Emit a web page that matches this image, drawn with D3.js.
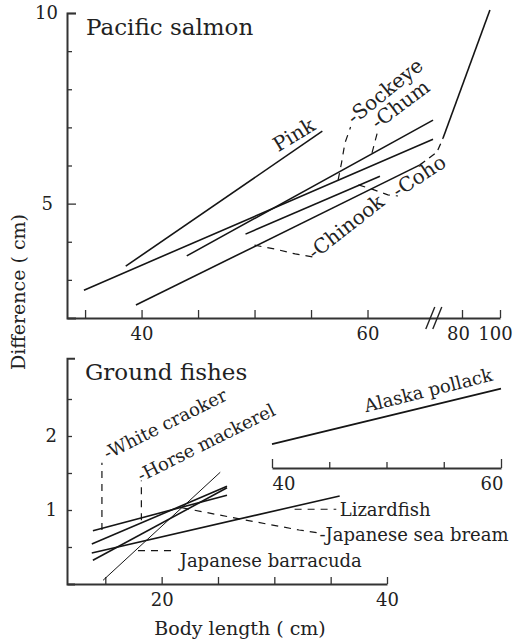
<!DOCTYPE html>
<html>
<head>
<meta charset="utf-8">
<script src="https://cdn.jsdelivr.net/npm/d3@7"></script>
<style>
body { margin: 0; background: #fff; }
text { font-family: "DejaVu Serif", "Liberation Serif", serif; fill: #222; }
</style>
</head>
<body>
<script>
// ---- Pacific salmon: body length (cm) vs difference (cm)
var pink    = [[38.6, 3.36], [56.0, 6.90]];
var sockeye = [[34.9, 2.73], [65.8, 6.69]];
var chum    = [[44.0, 3.63], [65.8, 7.19]];
var coho    = [[49.2, 4.20], [61.1, 5.72]];
var chinook = [[39.5, 2.34], [64.6, 6.01]];
var chinookLink = [[64.6, 6.01], [67.4, 6.35], [71.4, 6.72]];
var chinookLarge = [[71.4, 6.72], [94.7, 10.08]];

var salmonLabels = ["Pink", "-Sockeye", "-Chum", "-Coho", "-Chinook"];
var salmonLabelAt = [[52.1, 6.35], [58.8, 7.06], [60.9, 6.93], [62.7, 5.15], [55.3, 3.52]];
var salmonLabelAngle = [-31, -39, -37, -33, -38];
var salmonLeaders = [
  [[57.4, 5.62], [57.7, 6.07], [58.0, 6.59], [58.5, 7.01]],
  [[60.4, 6.33], [60.7, 6.67], [60.9, 6.90]],
  [[59.2, 5.49], [60.4, 5.38], [61.8, 5.23], [62.7, 5.20]],
  [[50.0, 3.91], [51.8, 3.81], [53.6, 3.68], [55.2, 3.60]]
];
var salmonYTicks = [3, 4, 5, 6, 7, 8, 9, 10];
var salmonYLabels = [5, 10];
var salmonXTicks = [35, 40, 45, 50, 55, 60, 80, 100];
var salmonXLabels = [40, 60, 80, 100];

// ---- Ground fishes
var whiteCroaker  = [[13.9, 0.72], [25.8, 1.20]];
var horseMackerel = [[13.8, 0.54], [25.8, 1.32]];
var seaBream      = [[13.9, 0.32], [25.8, 1.30]];
var lizardfish    = [[13.8, 0.42], [35.8, 1.19]];
var barracuda     = [[14.8, 0.05], [25.2, 1.51]];
var alaskaPollack = [[40.0, 1.89], [60.0, 2.64]];

var groundLabels = ["-White craoker", "-Horse mackerel", "Lizardfish", "-Japanese sea bream", "Japanese barracuda"];
var groundLabelAt = [[15.2, 1.68], [18.2, 1.38], [35.8, 0.92], [34.0, 0.58], [21.6, 0.23]];
var groundLabelAngle = [-26.5, -26.5, 0, 0, 0];
var groundLeaders = [
  [[14.7, 0.73], [14.7, 1.64]],
  [[18.2, 0.86], [18.2, 1.40]],
  [[31.8, 1.01], [35.5, 1.01]],
  [[21.8, 1.03], [26.9, 0.88], [32.2, 0.73], [33.9, 0.69]],
  [[17.9, 0.45], [21.2, 0.45]]
];
var groundYTicks = [0.5, 1, 1.5, 2, 2.5];
var groundYLabels = [1, 2];
var groundXTicks = [15, 20, 25, 30, 35, 40];
var groundXLabels = [20, 40];
var pollackTicks = [40, 45, 50, 55, 60];

var width = 516, height = 642;

var svg = d3.select("body").append("svg")
    .attr("width", width)
    .attr("height", height);

// scales (top x axis is broken between 66 and 70)
var xTop = d3.scaleLinear().domain([33.4, 66, 70, 80, 100]).range([67, 435.3, 440, 462, 500]);
var yTop = d3.scaleLinear().domain([2, 10]).range([318, 13]);
var xBot = d3.scaleLinear().domain([11.6, 40]).range([67, 387]);
var yBot = d3.scaleLinear().domain([0, 3.05]).range([584, 358.3]);
var xAla = d3.scaleLinear().domain([40, 60]).range([272, 501]);

function styleAxis(g) {
    g.select(".domain").attr("stroke", "#333").attr("stroke-width", 2);
    g.selectAll(".tick line").attr("stroke", "#333").attr("stroke-width", 1.3);
    g.selectAll(".tick text").style("font-family", "DejaVu Serif").attr("fill", "#222");
}

// ---- top panel axes
svg.append("g")
    .attr("transform", "translate(67,0)")
    .call(d3.axisLeft(yTop).tickValues(salmonYTicks).tickSize(-5).tickSizeOuter(-9).tickPadding(9)
        .tickFormat(function(d) { return salmonYLabels.indexOf(d) >= 0 ? d : ""; }))
    .call(styleAxis)
    .call(function(g) {
        g.selectAll(".tick text").attr("font-size", 18);
        g.selectAll(".tick").filter(function(d) { return salmonYLabels.indexOf(d) >= 0; })
            .select("line").attr("x2", 9);
        g.selectAll(".tick").filter(function(d) { return d === 5; }).select("text").attr("x", -14);
    });

svg.append("g")
    .attr("transform", "translate(0,318)")
    .call(d3.axisBottom(xTop).tickValues(salmonXTicks).tickSize(-8).tickSizeOuter(0).tickPadding(9)
        .tickFormat(function(d) { return salmonXLabels.indexOf(d) >= 0 ? d : ""; }))
    .call(styleAxis)
    .call(function(g) {
        g.selectAll(".tick text").attr("font-size", 18);
        g.selectAll(".tick").filter(function(d) { return d === 100; }).select("text").attr("x", -5);
        g.selectAll(".tick").filter(function(d) { return d === 80; }).select("text").attr("x", -4);
    });

// axis break mark
var bx = xTop(65.6);
[0, 7].forEach(function(off) {
    svg.append("line")
        .attr("x1", bx - 5 + off).attr("y1", 329)
        .attr("x2", bx + 4 + off).attr("y2", 307)
        .attr("stroke", "#222").attr("stroke-width", 1.4);
});

var lineTop = d3.line()
    .x(function(d) { return xTop(d[0]); })
    .y(function(d) { return yTop(d[1]); });

[pink, sockeye, chum, coho, chinook, chinookLarge].forEach(function(s) {
    svg.append("path")
        .datum(s)
        .attr("fill", "none")
        .attr("stroke", "#151515")
        .attr("stroke-width", 1.6)
        .attr("d", lineTop);
});

svg.append("path")
    .datum(chinookLink)
    .attr("fill", "none")
    .attr("stroke", "#151515")
    .attr("stroke-width", 1.3)
    .attr("stroke-dasharray", "7,5")
    .attr("d", lineTop);

salmonLeaders.forEach(function(s) {
    svg.append("path")
        .datum(s)
        .attr("fill", "none")
        .attr("stroke", "#151515")
        .attr("stroke-width", 1.2)
        .attr("stroke-dasharray", "7,6")
        .attr("d", lineTop);
});

salmonLabels.forEach(function(t, i) {
    svg.append("text")
        .attr("transform", "translate(" + xTop(salmonLabelAt[i][0]) + "," + yTop(salmonLabelAt[i][1]) +
              ") rotate(" + salmonLabelAngle[i] + ")")
        .attr("font-size", 20)
        .text(t);
});

svg.append("text")
    .attr("x", 86).attr("y", 35)
    .attr("font-size", 23)
    .text("Pacific salmon");

// ---- bottom panel axes
svg.append("g")
    .attr("transform", "translate(67,0)")
    .call(d3.axisLeft(yBot).tickValues(groundYTicks).tickSize(-5).tickSizeOuter(-8).tickPadding(10)
        .tickFormat(function(d) { return groundYLabels.indexOf(d) >= 0 ? d : ""; }))
    .call(styleAxis)
    .call(function(g) { g.selectAll(".tick text").attr("font-size", 18); });

svg.append("g")
    .attr("transform", "translate(0,584)")
    .call(d3.axisBottom(xBot).tickValues(groundXTicks).tickSize(-7).tickSizeOuter(0).tickPadding(9)
        .tickFormat(function(d) { return groundXLabels.indexOf(d) >= 0 ? d : ""; }))
    .call(styleAxis)
    .call(function(g) { g.selectAll(".tick text").attr("font-size", 18); });

// inset axis for Alaska pollack
svg.append("g")
    .attr("transform", "translate(0,468)")
    .call(d3.axisBottom(xAla).tickValues(pollackTicks).tickSize(-6).tickSizeOuter(0).tickPadding(9)
        .tickFormat(function(d) { return d === 40 || d === 60 ? d : ""; }))
    .call(styleAxis)
    .call(function(g) {
        g.selectAll(".tick text").attr("font-size", 18);
        g.selectAll(".tick").filter(function(d) { return d === 40; }).select("text").attr("text-anchor", "start").attr("x", 0);
        g.selectAll(".tick").filter(function(d) { return d === 60; }).select("text").attr("text-anchor", "end").attr("x", 2);
        g.selectAll(".tick").filter(function(d) { return d === 40 || d === 60; }).select("line").attr("y2", -9);
    });

var lineBot = d3.line()
    .x(function(d) { return xBot(d[0]); })
    .y(function(d) { return yBot(d[1]); });

[whiteCroaker, horseMackerel, seaBream, lizardfish].forEach(function(s) {
    svg.append("path")
        .datum(s)
        .attr("fill", "none")
        .attr("stroke", "#151515")
        .attr("stroke-width", 1.6)
        .attr("d", lineBot);
});

svg.append("path")
    .datum(barracuda)
    .attr("fill", "none")
    .attr("stroke", "#151515")
    .attr("stroke-width", 1)
    .attr("d", lineBot);

svg.append("path")
    .datum(alaskaPollack)
    .attr("fill", "none")
    .attr("stroke", "#151515")
    .attr("stroke-width", 1.8)
    .attr("d", d3.line()
        .x(function(d) { return xAla(d[0]); })
        .y(function(d) { return yBot(d[1]); }));

groundLeaders.forEach(function(s) {
    svg.append("path")
        .datum(s)
        .attr("fill", "none")
        .attr("stroke", "#151515")
        .attr("stroke-width", 1.2)
        .attr("stroke-dasharray", "7,6")
        .attr("d", lineBot);
});

groundLabels.forEach(function(t, i) {
    svg.append("text")
        .attr("transform", "translate(" + xBot(groundLabelAt[i][0]) + "," + yBot(groundLabelAt[i][1]) +
              ") rotate(" + groundLabelAngle[i] + ")")
        .attr("font-size", 18)
        .text(t);
});

svg.append("text")
    .attr("transform", "translate(" + xAla(48.2) + "," + yBot(2.32) + ") rotate(-14)")
    .attr("font-size", 18)
    .text("Alaska pollack");

svg.append("text")
    .attr("x", 85).attr("y", 380)
    .attr("font-size", 23)
    .text("Ground fishes");

// axis titles
svg.append("text")
    .attr("transform", "translate(25,292) rotate(-90)")
    .attr("text-anchor", "middle")
    .attr("font-size", 19)
    .text("Difference ( cm)");

svg.append("text")
    .attr("x", 240).attr("y", 635)
    .attr("text-anchor", "middle")
    .attr("font-size", 19)
    .text("Body length ( cm)");
</script>
</body>
</html>
